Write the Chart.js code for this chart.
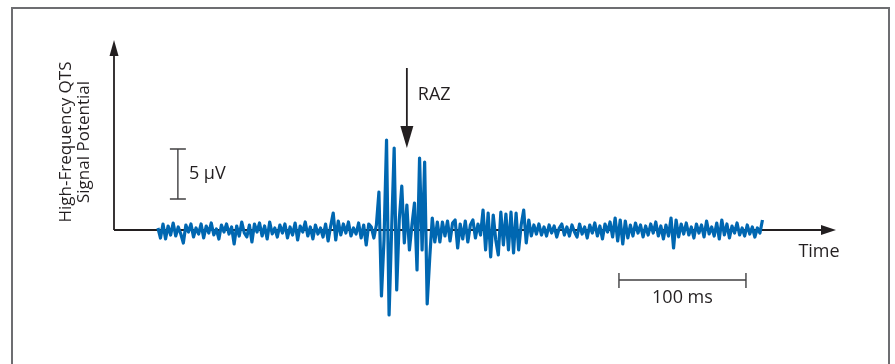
<!DOCTYPE html>
<html>
<head>
<meta charset="utf-8">
<script src="https://cdn.jsdelivr.net/npm/chart.js@4"></script>
<style>
  body { margin: 0; background: #fff; }
  canvas { display: block; }
</style>
</head>
<body>
<canvas id="qtsChart" width="895" height="364"></canvas>
<script>
// sample interval of the trace, ms
const sampleStepMs = 2;

// signal potential, µV, one value every 2 ms from t = 0
const potentialUv = [
  0.2, -0.8, 0.6, -0.9, 0.4, -0.5, 0.7, -0.6, 0.3, -0.4,
  -1.3, 0.5, -0.2, 0.6, -0.7, 0.2, -0.4, 0.6, -0.8, 0.4,
  -0.3, 0.7, -0.5, 0.1, -0.9, 0.5, -0.2, 0.6, -0.4, 0.3,
  -1.4, 0.4, -0.6, 0.8, -0.3, -0.7, 0.5, -1.2, 0.6, -0.2,
  0.7, -0.6, 0.4, -0.9, 0.8, -0.4, 0.2, -0.7, 0.5, -0.3,
  0.6, -0.8, 0.3, -0.5, 0.7, -1.0, 0.4, -0.2, 0.8, -0.6,
  0.3, -0.9, 0.5, -0.4, 0.2, -0.7, 0.6, -1.1, 0.4, 1.7,
  -1.0, 0.9, -0.5, 0.6, -0.3, 0.8, -0.6, 0.2, -0.4, 0.7,
  -0.8, 0.5, -1.5, 0.6, 0.3,
  // late potential burst
  -0.8, 0.5, 3.8, -6.6, -1.0, 9.0, -8.5, 0.0, 8.2, -6.0,
  1.0, 4.4, -1.3, 2.5, -2.0, 0.5, 2.7, -4.0, 7.2, -2.0,
  6.8, -7.4, -2.8, 1.2, -1.2, 0.8,
  -1.2, 0.8, -0.6, 0.9, -1.1, 0.7, 1.0, -1.8, 0.6, -0.9,
  0.9, -1.2, 0.5, 1.0, -0.8, 0.6, -0.5, 2.0, -2.0, 1.7,
  -2.7, 1.5, -1.0, -2.5, 1.8, -1.5, 1.6, -2.0, 1.8, -2.3,
  1.7, -2.0, 0.5, 2.0, -1.3, 1.0, -0.6, 0.5, -0.4, 0.6,
  -0.5, 0.3, -0.6, 0.5, -0.3, 0.4, -0.7, 0.2, 0.6, -0.5,
  0.3, -0.6, 0.5, -0.2, -0.7, 0.6, -0.4, 0.3, -0.8, 0.5,
  -0.3, 0.7, -0.6, 0.4, -0.9, 0.6, -0.2, 0.8, -0.7, 1.2,
  -1.1, 1.0, -1.4, 0.9, -0.8, 0.5, -0.6, 0.7, -0.3, 0.5,
  -0.7, 0.4, -0.5, 0.6, -0.3, 0.8, -0.6, 0.4, -0.9, 0.5,
  -0.6, 1.2, -1.8, 1.0, -0.7, 0.6, -0.4, 0.7, -0.5, 0.3,
  -0.8, 0.6, -0.3, 0.5, -0.7, 0.9, -0.4, 0.3, -0.6, 0.7,
  -0.9, 1.0, -0.5, 0.6, -0.8, 0.4, -0.3, 0.7, -0.5, 0.2,
  -0.6, 0.5, -0.4, 0.3, -0.7, 0.2, -0.3, 1.0
];

// annotation values
const razTimeMs = 196;
const voltBar = { timeMs: 15.7, fromUv: 3.1, toUv: 8.1, label: '5 µV' };
const timeBar = { fromMs: 363, toMs: 463, atUv: -5.0, label: '100 ms' };
const yTitle = ['High-Frequency QTS', 'Signal Potential'];

const points = potentialUv.map((v, i) => ({ x: i * sampleStepMs, y: v }));

const ink = '#231f20';
const font = '"Open Sans", "Noto Sans", sans-serif';

function arrowHead(ctx, x, y, dir, len, half) {
  ctx.beginPath();
  if (dir === 'up') { ctx.moveTo(x, y); ctx.lineTo(x - half, y + len); ctx.lineTo(x + half, y + len); }
  if (dir === 'down') { ctx.moveTo(x, y); ctx.lineTo(x - half, y - len); ctx.lineTo(x + half, y - len); }
  if (dir === 'right') { ctx.moveTo(x, y); ctx.lineTo(x - len, y - half); ctx.lineTo(x - len, y + half); }
  ctx.closePath();
  ctx.fill();
}

const decorations = {
  id: 'decorations',
  beforeDatasetsDraw(chart) {
    const ctx = chart.ctx;
    const xs = chart.scales.x, ys = chart.scales.y;
    const area = chart.chartArea;
    ctx.save();
    // frame
    ctx.strokeStyle = '#6d6e71';
    ctx.lineWidth = 2;
    ctx.strokeRect(12, 8, 877, 380);

    ctx.strokeStyle = ink;
    ctx.fillStyle = ink;
    ctx.lineWidth = 1.8;
    const y0 = ys.getPixelForValue(0);
    // y axis
    ctx.beginPath();
    ctx.moveTo(area.left, y0);
    ctx.lineTo(area.left, area.top + 10);
    ctx.stroke();
    arrowHead(ctx, area.left, area.top, 'up', 16, 4.5);
    // x axis
    ctx.beginPath();
    ctx.moveTo(area.left, y0);
    ctx.lineTo(area.right - 10, y0);
    ctx.stroke();
    arrowHead(ctx, area.right, y0, 'right', 15, 5);

    // RAZ arrow
    const rx = xs.getPixelForValue(razTimeMs);
    ctx.beginPath();
    ctx.moveTo(rx, ys.getPixelForValue(16.2));
    ctx.lineTo(rx, ys.getPixelForValue(9.8));
    ctx.stroke();
    arrowHead(ctx, rx, ys.getPixelForValue(8.2), 'down', 22, 6.5);

    // 5 µV bar
    ctx.lineWidth = 1.4;
    ctx.strokeStyle = '#414042';
    const vx = xs.getPixelForValue(voltBar.timeMs);
    const vTop = ys.getPixelForValue(voltBar.toUv), vBot = ys.getPixelForValue(voltBar.fromUv);
    ctx.beginPath();
    ctx.moveTo(vx, vTop); ctx.lineTo(vx, vBot);
    ctx.moveTo(vx - 8, vTop); ctx.lineTo(vx + 8, vTop);
    ctx.moveTo(vx - 8, vBot); ctx.lineTo(vx + 8, vBot);
    ctx.stroke();

    // 100 ms bar
    const tL = xs.getPixelForValue(timeBar.fromMs), tR = xs.getPixelForValue(timeBar.toMs);
    const ty = ys.getPixelForValue(timeBar.atUv);
    ctx.beginPath();
    ctx.moveTo(tL, ty); ctx.lineTo(tR, ty);
    ctx.moveTo(tL, ty - 7); ctx.lineTo(tL, ty + 8);
    ctx.moveTo(tR, ty - 7); ctx.lineTo(tR, ty + 8);
    ctx.stroke();

    // texts
    ctx.fillStyle = ink;
    ctx.font = '18px ' + font;
    ctx.textBaseline = 'middle';
    ctx.textAlign = 'left';
    ctx.fillText('RAZ', rx + 11, ys.getPixelForValue(13.5));
    ctx.fillText(voltBar.label, vx + 11, (vTop + vBot) / 2);
    ctx.textAlign = 'center';
    ctx.fillText('Time', 819, y0 + 22);
    ctx.fillText(timeBar.label, (tL + tR) / 2, ty + 18);

    ctx.save();
    ctx.translate(66, 142);
    ctx.rotate(-Math.PI / 2);
    ctx.font = '17px ' + font;
    ctx.fillText(yTitle[0], 0, 0);
    ctx.fillText(yTitle[1], 0, 18);
    ctx.restore();

    ctx.restore();
  }
};

new Chart(document.getElementById('qtsChart'), {
  type: 'line',
  data: {
    datasets: [{
      data: points,
      borderColor: '#0067b1',
      borderWidth: 3.2,
      pointRadius: 0,
      tension: 0,
      borderJoinStyle: 'round'
    }]
  },
  options: {
    responsive: false,
    animation: false,
    devicePixelRatio: 1,
    layout: { padding: { left: 114, right: 59, top: 40, bottom: 34 } },
    scales: {
      x: { type: 'linear', min: -34.6, max: 533.9, display: false },
      y: { min: -10, max: 19, display: false }
    },
    plugins: { legend: { display: false }, tooltip: { enabled: false } }
  },
  plugins: [decorations]
});
</script>
</body>
</html>
